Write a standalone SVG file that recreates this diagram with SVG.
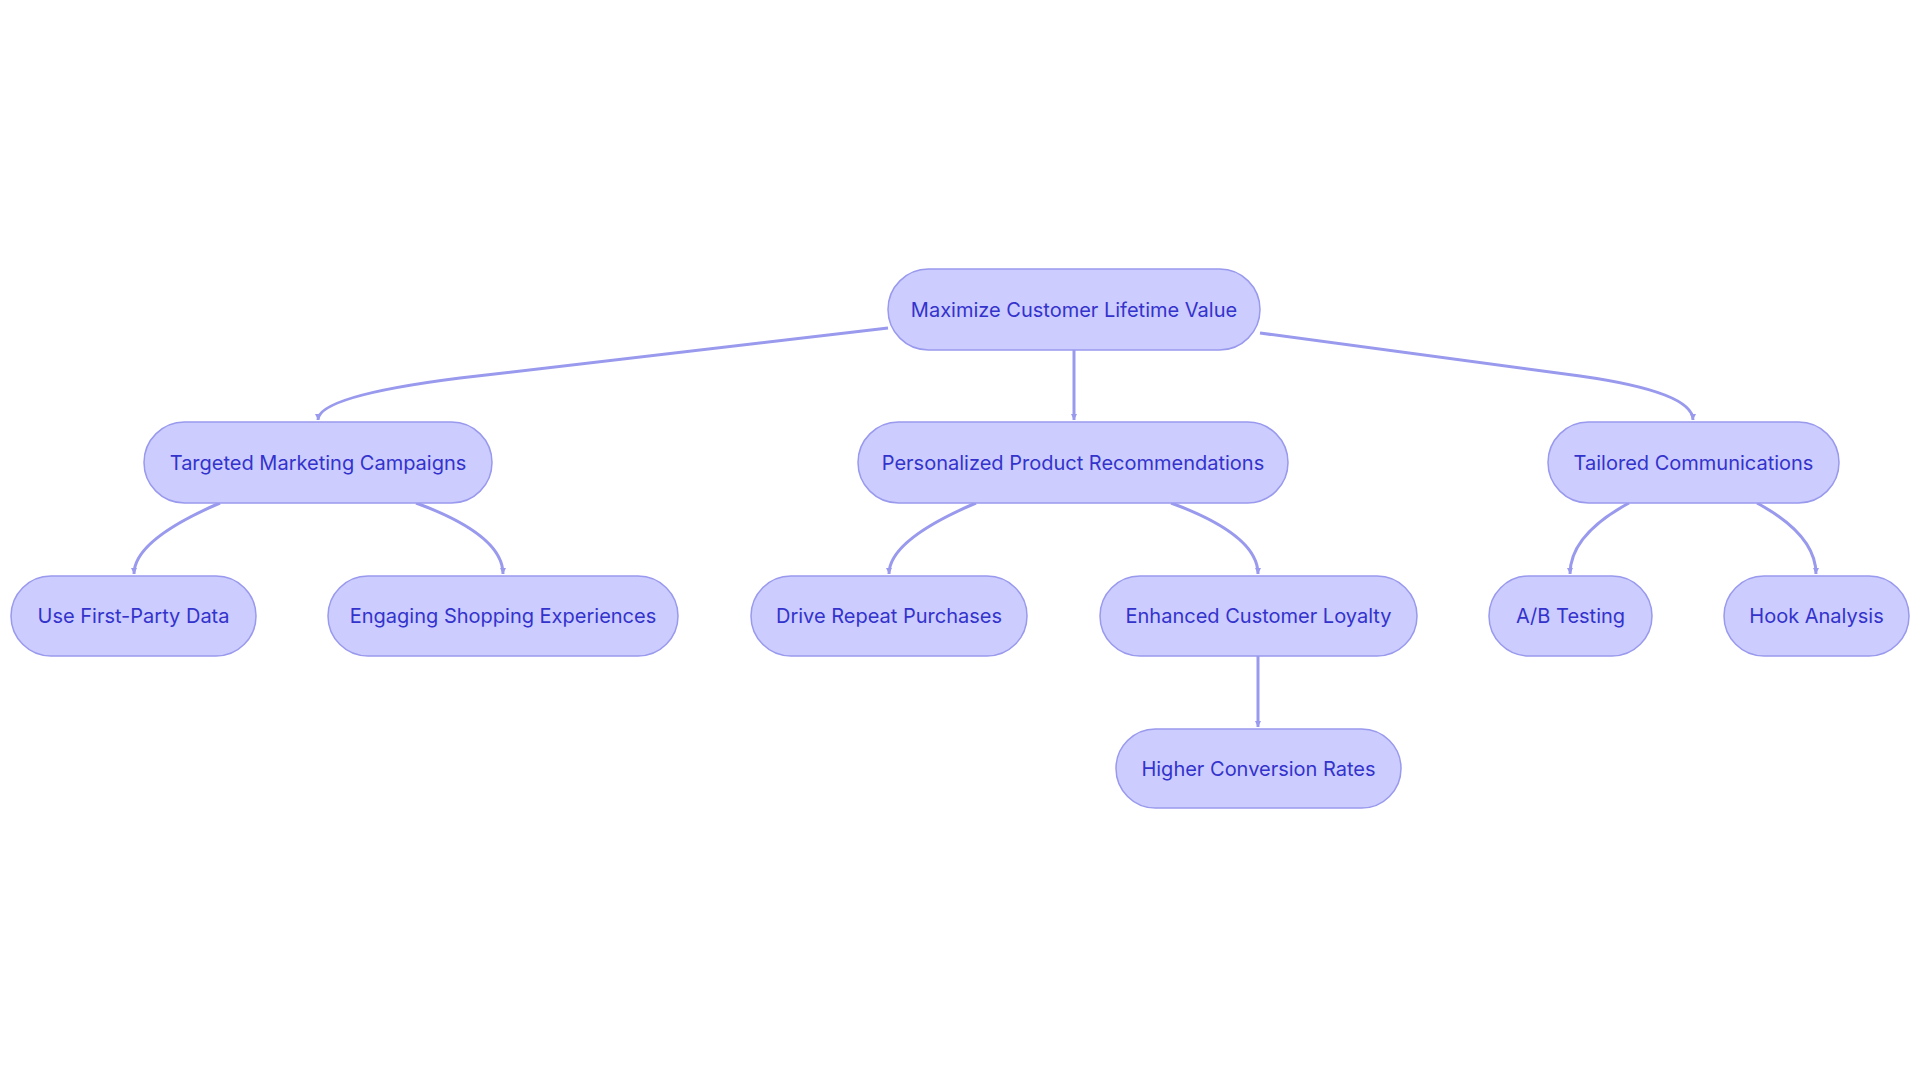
<svg xmlns="http://www.w3.org/2000/svg" width="1920" height="1083" viewBox="0 0 1920 1083">
<style>
.n rect{fill:#ccccff;stroke:#9999ee;stroke-width:1.5}
.n text{font-family:Inter,"Noto Sans",sans-serif;font-size:20px;fill:#3333cc;text-anchor:middle;dominant-baseline:central}
.e path{fill:none;stroke:#9999ee;stroke-width:3;marker-end:url(#a)}
</style>
<defs><marker id="a" viewBox="0 0 10 10" refX="10" refY="5" markerWidth="6" markerHeight="6" markerUnits="userSpaceOnUse" orient="auto"><path d="M0,0L10,5L0,10z" fill="#9999ee" stroke="none" style="marker-end:none"/></marker></defs>
<rect width="1920" height="1083" fill="#fff"/>
<g class="e">
<path d="M888,328 L460,378 Q318,396 318,420"/>
<path d="M1074,350 L1074,420"/>
<path d="M1260,333 L1580,376 Q1693,392 1693,420"/>
<path d="M220,503 Q134,540 134,574"/>
<path d="M416,503 Q503,535 503,574"/>
<path d="M976,503 Q889,540 889,574"/>
<path d="M1171,503 Q1258,535 1258,574"/>
<path d="M1629,503 Q1570,535 1570,574"/>
<path d="M1757,503 Q1816,535 1816,574"/>
<path d="M1258,656 L1258,727"/>
</g>
<g id="root" class="n"><rect x="888" y="269" width="372" height="81" rx="40.5"/><text x="1074" y="309.5">Maximize Customer Lifetime Value</text></g>
<g id="targeted" class="n"><rect x="144" y="422" width="348" height="81" rx="40.5"/><text x="318" y="462.5">Targeted Marketing Campaigns</text></g>
<g id="personalized" class="n"><rect x="858" y="422" width="430" height="81" rx="40.5"/><text x="1073" y="462.5">Personalized Product Recommendations</text></g>
<g id="tailored" class="n"><rect x="1548" y="422" width="291" height="81" rx="40.5"/><text x="1693.5" y="462.5">Tailored Communications</text></g>
<g id="first" class="n"><rect x="11" y="576" width="245" height="80" rx="40"/><text x="133.5" y="616">Use First-Party Data</text></g>
<g id="engaging" class="n"><rect x="328" y="576" width="350" height="80" rx="40"/><text x="503" y="616">Engaging Shopping Experiences</text></g>
<g id="drive" class="n"><rect x="751" y="576" width="276" height="80" rx="40"/><text x="889" y="616">Drive Repeat Purchases</text></g>
<g id="loyalty" class="n"><rect x="1100" y="576" width="317" height="80" rx="40"/><text x="1258.5" y="616">Enhanced Customer Loyalty</text></g>
<g id="ab" class="n"><rect x="1489" y="576" width="163" height="80" rx="40"/><text x="1570.5" y="616">A/B Testing</text></g>
<g id="hook" class="n"><rect x="1724" y="576" width="185" height="80" rx="40"/><text x="1816.5" y="616">Hook Analysis</text></g>
<g id="higher" class="n"><rect x="1116" y="729" width="285" height="79" rx="39.5"/><text x="1258.5" y="768.5">Higher Conversion Rates</text></g>
</svg>
